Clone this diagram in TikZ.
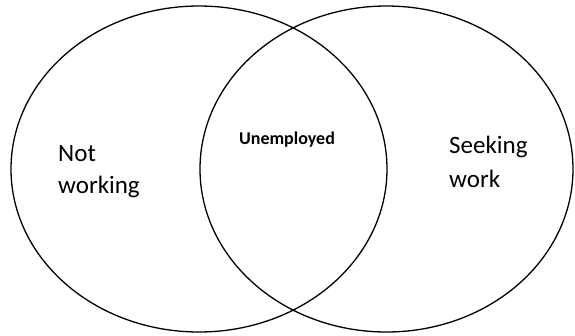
\documentclass[tikz,border=0pt]{standalone}
\usepackage{fontspec}
\setmainfont{Carlito}
\usetikzlibrary{shapes.geometric}
\begin{document}
\begin{tikzpicture}[x=1pt,y=-1pt,
  setring/.style={draw=black, line width=1.3pt, ellipse, inner sep=0pt, outer sep=0pt},
  biglabel/.style={anchor=base west, inner sep=0pt, align=left, text=black},
  midlabel/.style={anchor=base, inner sep=0pt, text=black, font=\fontsize{18}{22}\selectfont\bfseries}]
\useasboundingbox[fill=white] (0,0) rectangle (575,335);
\node[setring, minimum width=376pt, minimum height=326pt] (left) at (199,169) {};
\node[setring, minimum width=373pt, minimum height=326pt] (right) at (386.5,169) {};
\node[biglabel, font=\fontsize{25}{32}\selectfont] (notworking) at (58,193) {Not\\working};
\node[biglabel, font=\fontsize{25}{34}\selectfont] (seeking) at (449,187) {Seeking\\work};
\node[midlabel] (unemp) at (287,144) {Unemployed};
\end{tikzpicture}
\end{document}
